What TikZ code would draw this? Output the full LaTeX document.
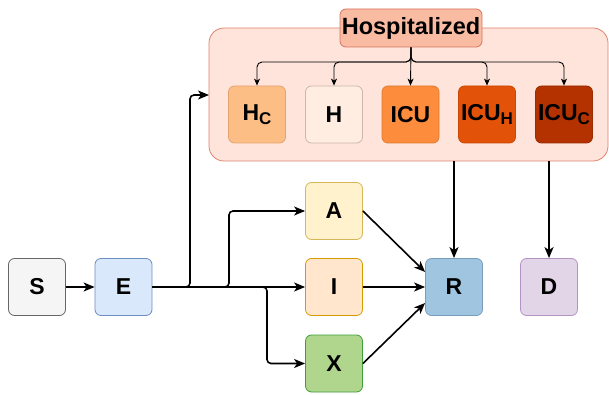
\documentclass[tikz,border=0pt]{standalone}
\usepackage{fontspec}
\setmainfont{Liberation Sans}
\usetikzlibrary{arrows.meta,calc}
\definecolor{sF}{HTML}{F5F5F5}\definecolor{sD}{HTML}{666666}
\definecolor{eF}{HTML}{DAE8FC}\definecolor{eD}{HTML}{6C8EBF}
\definecolor{aF}{HTML}{FFF2CC}\definecolor{aD}{HTML}{D6B656}
\definecolor{iF}{HTML}{FFE6CC}\definecolor{iD}{HTML}{D79B00}
\definecolor{xF}{HTML}{B0D68D}\definecolor{xD}{HTML}{3E9E3A}
\definecolor{rF}{HTML}{A0C5E0}\definecolor{rD}{HTML}{7A9CBA}
\definecolor{dF}{HTML}{E1D5E7}\definecolor{dD}{HTML}{B393C2}
\definecolor{cF}{HTML}{FEE4DA}\definecolor{cD}{HTML}{E0826E}
\definecolor{hF}{HTML}{FABBA3}\definecolor{hD}{HTML}{D6735E}
\definecolor{hcF}{HTML}{FDBE85}\definecolor{hcD}{HTML}{E5A270}
\definecolor{hhF}{HTML}{FEEDE0}\definecolor{hhD}{HTML}{CDB5A8}
\definecolor{icuF}{HTML}{FD8D3C}\definecolor{icuD}{HTML}{E07A30}
\definecolor{ichF}{HTML}{E25208}\definecolor{ichD}{HTML}{C84806}
\definecolor{iccF}{HTML}{B33200}\definecolor{iccD}{HTML}{9A2C00}
\newcommand{\mysub}[1]{\raisebox{-4.5pt}{\fontsize{17}{20}\selectfont #1}}
\begin{document}
\begin{tikzpicture}[x=1pt,y=-1pt,
  box/.style={rounded corners=6pt,minimum width=57pt,minimum height=57pt,inner sep=0pt,
    font=\fontsize{23}{26}\selectfont\bfseries,line width=0.8pt},
  arr/.style={line width=1.6pt,-{Stealth[length=11pt,width=9pt,inset=3pt]},rounded corners=4pt},
  sarr/.style={line width=0.9pt,-{Stealth[length=7pt,width=6pt,inset=2pt]},rounded corners=5pt}]
\useasboundingbox (0,0) rectangle (609,395);
% container
\node[draw=cD,fill=cF,rounded corners=15pt,minimum width=399pt,minimum height=133pt,inner sep=0pt,line width=0.8pt] (cont) at (408.5,94.5) {};
\node[draw=hD,fill=hF,rounded corners=6pt,minimum width=142pt,minimum height=38pt,inner sep=0pt,line width=0.8pt,font=\fontsize{23.5}{26}\selectfont\bfseries] (hosp) at (411,28) {Hospitalized};
% inner boxes
\node[box,draw=hcD,fill=hcF] (Hc) at (257,114.5) {H\mysub{C}};
\node[box,draw=hhD,fill=hhF] (H) at (334,114.5) {H};
\node[box,draw=icuD,fill=icuF] (ICU) at (410.5,114.5) {ICU};
\node[box,draw=ichD,fill=ichF] (ICUh) at (487,114.5) {ICU\mysub{H}};
\node[box,draw=iccD,fill=iccF] (ICUc) at (564,114.5) {ICU\mysub{C}};
% lower boxes
\node[box,draw=sD,fill=sF] (S) at (37,287) {S};
\node[box,draw=eD,fill=eF] (E) at (123.5,287) {E};
\node[box,draw=aD,fill=aF] (A) at (334,211) {A};
\node[box,draw=iD,fill=iF] (I) at (334,287) {I};
\node[box,draw=xD,fill=xF] (X) at (334,363.5) {X};
\node[box,draw=rD,fill=rF] (R) at (454,287) {R};
\node[box,draw=dD,fill=dF] (D) at (549,287) {D};
% hospital branches
\coordinate (hb) at (411,62);
\draw[sarr] (hosp.south) -- (hb) -| (Hc.north);
\draw[sarr] (hosp.south) -- (hb) -| (H.north);
\draw[sarr] (hosp.south) -- (ICU.north);
\draw[sarr] (hosp.south) -- (hb) -| (ICUh.north);
\draw[sarr] (hosp.south) -- (hb) -| (ICUc.north);
% main arrows
\coordinate (cin) at (209,95);
\draw[arr] (S.east) -- (E.west);
\draw[arr] (E.east) -- (190,287) |- (cin);
\draw[arr] (E.east) -- (229,287) |- (A.west);
\draw[arr] (E.east) -- (I.west);
\draw[arr] (E.east) -- (267,287) |- (X.west);
\draw[arr] (A.east) -- ([yshift=15pt]R.west);
\draw[arr] (I.east) -- (R.west);
\draw[arr] (X.east) -- ([yshift=-16pt]R.west);
\draw[arr] (R.north |- cont.south) -- (R.north);
\draw[arr] (D.north |- cont.south) -- (D.north);
\end{tikzpicture}
\end{document}
